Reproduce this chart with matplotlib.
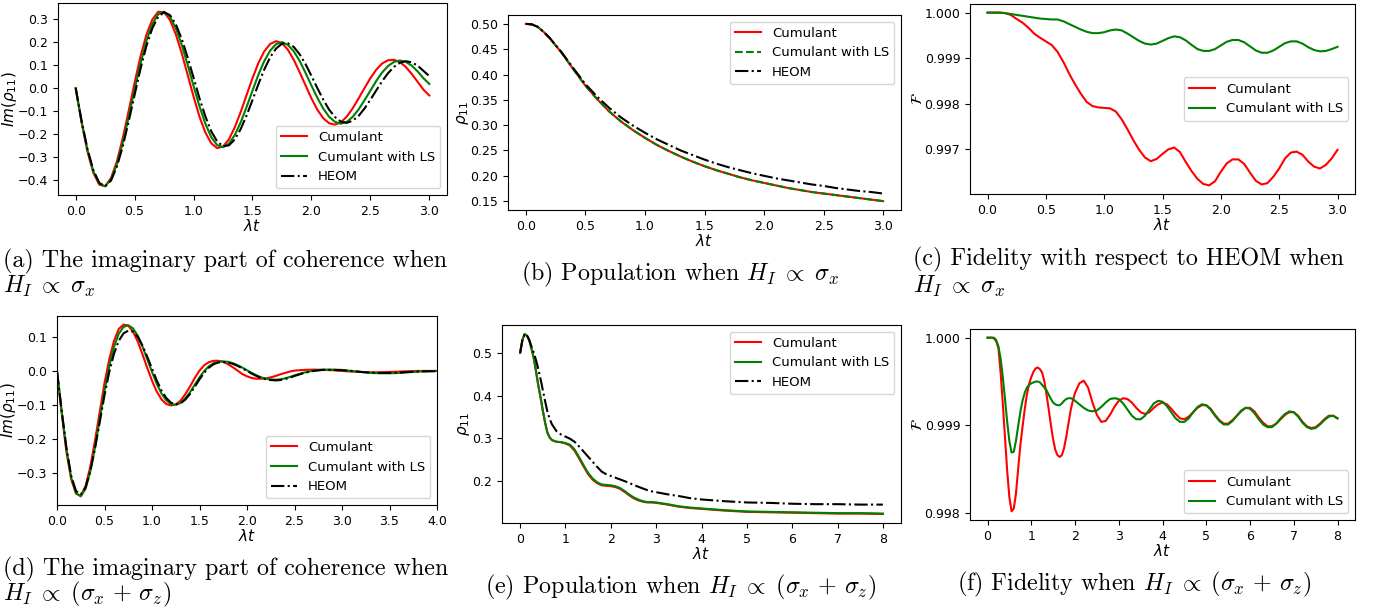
import numpy as np
import matplotlib
matplotlib.use('Agg')
import matplotlib.pyplot as plt
from matplotlib.ticker import MultipleLocator

plt.rcParams['font.size'] = 9.5
plt.rcParams['xtick.labelsize'] = 9
plt.rcParams['ytick.labelsize'] = 9
plt.rcParams['lines.linewidth'] = 1.5
plt.rcParams['axes.labelsize'] = 11

# ---------- (a) Im(rho11), H_I ~ sigma_x ----------
t_a = np.linspace(0, 3, 61)
im_cum_a = [0, -0.149, -0.276, -0.369, -0.420, -0.427, -0.391, -0.318, -0.216, -0.098,
            0.024, 0.138, 0.232, 0.298, 0.332, 0.330, 0.296, 0.233, 0.151, 0.057,
            -0.037, -0.124, -0.193, -0.240, -0.261, -0.254, -0.223, -0.170, -0.104, -0.030,
            0.043, 0.109, 0.160, 0.192, 0.204, 0.195, 0.167, 0.123, 0.069, 0.012,
            -0.045, -0.094, -0.131, -0.153, -0.159, -0.149, -0.124, -0.088, -0.045, 0.0,
            0.043, 0.080, 0.107, 0.121, 0.123, 0.113, 0.092, 0.062, 0.028, -0.007, -0.032]
im_ls_a = [0, -0.145, -0.270, -0.362, -0.416, -0.427, -0.397, -0.331, -0.237, -0.125,
           -0.006, 0.107, 0.205, 0.278, 0.321, 0.332, 0.310, 0.260, 0.188, 0.101,
           0.009, -0.079, -0.155, -0.213, -0.248, -0.257, -0.242, -0.204, -0.149, -0.082,
           -0.011, 0.058, 0.118, 0.163, 0.191, 0.200, 0.188, 0.160, 0.118, 0.066,
           0.011, -0.042, -0.089, -0.125, -0.147, -0.155, -0.147, -0.125, -0.093, -0.053,
           -0.011, 0.031, 0.068, 0.096, 0.114, 0.120, 0.114, 0.098, 0.073, 0.043, 0.018]
im_heom_a = [0, -0.143, -0.265, -0.357, -0.412, -0.427, -0.402, -0.341, -0.252, -0.144,
             -0.029, 0.084, 0.183, 0.260, 0.310, 0.330, 0.317, 0.277, 0.213, 0.133,
             0.045, -0.044, -0.123, -0.188, -0.232, -0.253, -0.249, -0.223, -0.178, -0.119,
             -0.052, 0.017, 0.081, 0.134, 0.172, 0.193, 0.195, 0.179, 0.147, 0.104,
             0.053, 0.0, -0.050, -0.094, -0.126, -0.146, -0.151, -0.142, -0.121, -0.089,
             -0.051, -0.010, 0.030, 0.065, 0.092, 0.110, 0.117, 0.112, 0.098, 0.075, 0.052]

# ---------- (b) population, H_I ~ sigma_x ----------
t_b = [0, 0.05, 0.1, 0.15, 0.2, 0.3, 0.4, 0.5, 0.6, 0.7, 0.8, 0.9, 1.0, 1.1, 1.2, 1.3, 1.4,
       1.5, 1.6, 1.7, 1.8, 1.9, 2.0, 2.1, 2.2, 2.3, 2.4, 2.5, 2.6, 2.7, 2.8, 2.9, 3.0]
pop_cum_b = [0.500, 0.499, 0.494, 0.484, 0.472, 0.443, 0.410, 0.378, 0.351, 0.327, 0.307,
             0.290, 0.275, 0.261, 0.249, 0.238, 0.228, 0.219, 0.211, 0.204, 0.197, 0.191,
             0.186, 0.181, 0.176, 0.172, 0.168, 0.165, 0.162, 0.159, 0.156, 0.153, 0.150]
pop_ls_b = pop_cum_b
pop_heom_b = [0.500, 0.499, 0.494, 0.484, 0.472, 0.444, 0.412, 0.381, 0.356, 0.334, 0.315,
              0.299, 0.285, 0.272, 0.261, 0.250, 0.241, 0.232, 0.224, 0.217, 0.211, 0.205,
              0.200, 0.195, 0.191, 0.187, 0.183, 0.180, 0.176, 0.173, 0.170, 0.168, 0.165]

# ---------- (c) fidelity, H_I ~ sigma_x ----------
t_c = np.linspace(0, 3, 61)
fid_cum_c = [1.0, 1.0, 1.0, 0.99999, 0.99995, 0.99986, 0.99978, 0.99967, 0.99954, 0.99945,
             0.99937, 0.99929, 0.99914, 0.99892, 0.99866, 0.99843, 0.99822, 0.99804, 0.99795, 0.99792,
             0.99791, 0.99790, 0.99783, 0.99766, 0.99744, 0.99720, 0.99699, 0.99682, 0.99674, 0.99679,
             0.99690, 0.99700, 0.99704, 0.99694, 0.99672, 0.99652, 0.99635, 0.99624, 0.99621, 0.99630,
             0.99651, 0.99669, 0.99678, 0.99678, 0.99668, 0.99649, 0.99631, 0.99623, 0.99626, 0.99640,
             0.99658, 0.99680, 0.99693, 0.99695, 0.99688, 0.99673, 0.99662, 0.99658, 0.99666, 0.99680,
             0.99699]
fid_ls_c = [1.0, 1.0, 1.0, 0.99999, 0.99997, 0.99995, 0.99993, 0.99991, 0.99989, 0.99987,
            0.99986, 0.99985, 0.99985, 0.99981, 0.99975, 0.99969, 0.99963, 0.99958, 0.99955, 0.99955,
            0.99957, 0.99961, 0.99963, 0.99961, 0.99954, 0.99946, 0.99938, 0.99932, 0.99930, 0.99932,
            0.99938, 0.99944, 0.99948, 0.99946, 0.99939, 0.99929, 0.99920, 0.99916, 0.99916, 0.99920,
            0.99928, 0.99936, 0.99940, 0.99940, 0.99935, 0.99926, 0.99917, 0.99912, 0.99912, 0.99917,
            0.99925, 0.99933, 0.99937, 0.99937, 0.99932, 0.99924, 0.99918, 0.99915, 0.99916, 0.99920,
            0.99925]

# ---------- (d) Im(rho11), H_I ~ (sigma_x + sigma_z) ----------
t_d = [0, 0.05, 0.1, 0.15, 0.2, 0.25, 0.3, 0.35, 0.4, 0.45, 0.5, 0.55, 0.6, 0.65, 0.7, 0.75,
       0.8, 0.85, 0.9, 0.95, 1.0, 1.05, 1.1, 1.15, 1.2, 1.25, 1.3, 1.35, 1.4, 1.45, 1.5, 1.55,
       1.6, 1.65, 1.7, 1.75, 1.8, 1.85, 1.9, 1.95, 2.0, 2.05, 2.1, 2.15, 2.2, 2.25, 2.3, 2.35,
       2.4, 2.45, 2.5, 2.6, 2.7, 2.8, 2.9, 3.0, 3.1, 3.2, 3.3, 3.4, 3.5, 3.6, 3.7, 3.8, 3.9, 4.0]
im_cum_d = [0, -0.125, -0.240, -0.320, -0.362, -0.368, -0.340, -0.283, -0.205, -0.120,
            -0.035, 0.035, 0.090, 0.125, 0.138, 0.135, 0.117, 0.088, 0.050, 0.010,
            -0.028, -0.060, -0.083, -0.097, -0.101, -0.098, -0.087, -0.068, -0.045, -0.020,
            0.002, 0.018, 0.027, 0.031, 0.031, 0.028, 0.021, 0.012, 0.002, -0.008,
            -0.015, -0.020, -0.022, -0.022, -0.021, -0.018, -0.014, -0.009, -0.005, -0.001,
            0.002, 0.004, 0.005, 0.004, 0.003, 0.001, -0.001, -0.002, -0.003, -0.003,
            -0.002, -0.001, 0.0, 0.001, 0.001, 0.001]
im_ls_d = [0, -0.120, -0.232, -0.315, -0.360, -0.370, -0.348, -0.297, -0.225, -0.142,
           -0.058, 0.015, 0.072, 0.111, 0.131, 0.136, 0.127, 0.105, 0.073, 0.036,
           -0.002, -0.037, -0.066, -0.086, -0.097, -0.099, -0.094, -0.080, -0.062, -0.040,
           -0.018, 0.001, 0.015, 0.024, 0.028, 0.029, 0.028, 0.024, 0.018, 0.011,
           0.003, -0.005, -0.012, -0.018, -0.022, -0.024, -0.025, -0.024, -0.021, -0.017,
           -0.012, -0.004, 0.002, 0.005, 0.005, 0.004, 0.001, -0.002, -0.005, -0.006,
           -0.006, -0.005, -0.003, -0.001, 0.0, 0.001]
im_heom_d = [0, -0.118, -0.228, -0.310, -0.354, -0.364, -0.344, -0.296, -0.228, -0.150,
             -0.071, -0.002, 0.052, 0.090, 0.112, 0.120, 0.117, 0.102, 0.076, 0.043,
             0.008, -0.027, -0.057, -0.079, -0.093, -0.098, -0.095, -0.084, -0.067, -0.046,
             -0.024, -0.004, 0.011, 0.021, 0.026, 0.027, 0.026, 0.022, 0.016, 0.009,
             0.001, -0.007, -0.014, -0.020, -0.024, -0.026, -0.027, -0.026, -0.023, -0.019,
             -0.014, -0.005, 0.001, 0.004, 0.004, 0.003, 0.001, -0.002, -0.004, -0.005,
             -0.005, -0.004, -0.002, -0.001, 0.0, 0.0]

# ---------- (e) population, H_I ~ (sigma_x + sigma_z) ----------
t_e = [0, 0.05, 0.1, 0.15, 0.2, 0.25, 0.3, 0.35, 0.4, 0.45, 0.5, 0.55, 0.6, 0.65, 0.7, 0.8,
       0.9, 1.0, 1.1, 1.2, 1.3, 1.4, 1.5, 1.6, 1.7, 1.8, 1.9, 2.0, 2.1, 2.2, 2.3, 2.4, 2.5,
       2.6, 2.7, 2.8, 2.9, 3.0, 3.25, 3.5, 3.75, 4.0, 4.5, 5.0, 5.5, 6.0, 6.5, 7.0, 7.5, 8.0]
pop_cum_e = [0.500, 0.530, 0.544, 0.540, 0.530, 0.510, 0.488, 0.457, 0.424, 0.396, 0.365,
             0.337, 0.314, 0.302, 0.296, 0.292, 0.291, 0.288, 0.283, 0.271, 0.253, 0.234,
             0.216, 0.203, 0.195, 0.190, 0.189, 0.188, 0.186, 0.182, 0.175, 0.167, 0.160,
             0.155, 0.152, 0.150, 0.150, 0.149, 0.145, 0.140, 0.137, 0.135, 0.131, 0.128,
             0.127, 0.126, 0.125, 0.124, 0.124, 0.123]
pop_ls_e = [0.500, 0.530, 0.544, 0.540, 0.530, 0.510, 0.488, 0.457, 0.424, 0.396, 0.365,
            0.337, 0.314, 0.302, 0.296, 0.292, 0.291, 0.289, 0.285, 0.274, 0.256, 0.237,
            0.219, 0.206, 0.197, 0.192, 0.191, 0.190, 0.188, 0.184, 0.177, 0.169, 0.162,
            0.157, 0.153, 0.151, 0.151, 0.150, 0.146, 0.141, 0.138, 0.136, 0.132, 0.129,
            0.128, 0.127, 0.126, 0.125, 0.125, 0.124]
pop_heom_e = [0.500, 0.530, 0.544, 0.541, 0.530, 0.515, 0.501, 0.483, 0.462, 0.439, 0.413,
              0.387, 0.363, 0.346, 0.333, 0.317, 0.309, 0.304, 0.299, 0.292, 0.281, 0.269,
              0.257, 0.245, 0.233, 0.222, 0.216, 0.212, 0.208, 0.204, 0.200, 0.196, 0.191,
              0.187, 0.183, 0.179, 0.176, 0.174, 0.169, 0.165, 0.160, 0.157, 0.153, 0.150,
              0.149, 0.147, 0.146, 0.146, 0.145, 0.145]

# ---------- (f) fidelity, H_I ~ (sigma_x + sigma_z) ----------
t_f = [round(0.05 * k, 2) for k in range(41)] + [round(2.0 + 0.1 * k, 1) for k in range(1, 61)]
fid_cum_f = [1.0, 1.0, 1.0, 0.99999, 0.99996, 0.99988, 0.99960, 0.99925, 0.99886, 0.99848,
             0.99818, 0.99802, 0.99805, 0.99822, 0.99850, 0.99877, 0.99898, 0.99918, 0.99935, 0.99947,
             0.99955, 0.99961, 0.99965, 0.99966, 0.99964, 0.99960, 0.99950, 0.99935, 0.99918, 0.99900,
             0.99884, 0.99872, 0.99866, 0.99864, 0.99866, 0.99874, 0.99887, 0.99902, 0.99917, 0.99928,
             0.99937,
             0.99948, 0.99951, 0.99943, 0.99926, 0.99912, 0.99904, 0.99905, 0.99912, 0.99921, 0.99928,
             0.99931, 0.99930, 0.99926, 0.99920, 0.99915, 0.99913, 0.99915, 0.99920, 0.99924, 0.99926,
             0.99924, 0.99919, 0.99913, 0.99908, 0.99907, 0.99910, 0.99915, 0.99920, 0.99923, 0.99923,
             0.99919, 0.99912, 0.99906, 0.99902, 0.99902, 0.99906, 0.99911, 0.99916, 0.99920, 0.99920,
             0.99916, 0.99909, 0.99903, 0.99899, 0.99899, 0.99902, 0.99907, 0.99912, 0.99915, 0.99915,
             0.99911, 0.99904, 0.99899, 0.99897, 0.99898, 0.99902, 0.99907, 0.99911, 0.99911, 0.99908]
fid_ls_f = [1.0, 1.0, 1.0, 1.0, 0.99997, 0.99990, 0.99976, 0.99955, 0.99930, 0.99904,
            0.99882, 0.99869, 0.99870, 0.99882, 0.99899, 0.99915, 0.99928, 0.99937, 0.99943, 0.99946,
            0.99948, 0.99949, 0.99950, 0.99950, 0.99949, 0.99946, 0.99943, 0.99940, 0.99935, 0.99930,
            0.99926, 0.99924, 0.99923, 0.99923, 0.99925, 0.99928, 0.99930, 0.99931, 0.99931, 0.99930,
            0.99928,
            0.99924, 0.99920, 0.99917, 0.99916, 0.99917, 0.99921, 0.99926, 0.99930, 0.99931, 0.99930,
            0.99925, 0.99918, 0.99911, 0.99907, 0.99907, 0.99911, 0.99918, 0.99925, 0.99928, 0.99927,
            0.99922, 0.99915, 0.99908, 0.99904, 0.99904, 0.99908, 0.99915, 0.99921, 0.99924, 0.99923,
            0.99918, 0.99911, 0.99905, 0.99901, 0.99901, 0.99905, 0.99911, 0.99917, 0.99920, 0.99919,
            0.99914, 0.99907, 0.99901, 0.99898, 0.99898, 0.99902, 0.99908, 0.99913, 0.99916, 0.99915,
            0.99910, 0.99903, 0.99898, 0.99896, 0.99897, 0.99901, 0.99906, 0.99910, 0.99911, 0.99908]

captions = {
    'a': ['(a) The imaginary part of coherence when', r'$H_I \;\propto\; \sigma_x$'],
    'b': [r'(b) Population when $H_I \;\propto\; \sigma_x$'],
    'c': ['(c) Fidelity with respect to HEOM when', r'$H_I \;\propto\; \sigma_x$'],
    'd': ['(d) The imaginary part of coherence when', r'$H_I \;\propto\; (\sigma_x \,+\, \sigma_z)$'],
    'e': [r'(e) Population when $H_I \;\propto\; (\sigma_x \,+\, \sigma_z)$'],
    'f': [r'(f) Fidelity when $H_I \;\propto\; (\sigma_x \,+\, \sigma_z)$'],
}

W, H = 1396, 612
fig = plt.figure(figsize=(W / 100, H / 100), dpi=100)


def add_ax(l, r, t, b):
    return fig.add_axes([l / W, 1 - b / H, (r - l) / W, (b - t) / H])


lab_cum = 'Cumulant'
lab_ls = 'Cumulant with LS'
lab_heom = 'HEOM'

# (a)
ax = add_ax(58, 447, 3, 195)
ax.plot(t_a, im_cum_a, color='red', label=lab_cum)
ax.plot(t_a, im_ls_a, color='green', label=lab_ls)
ax.plot(t_a, im_heom_a, color='black', linestyle='-.', label=lab_heom)
ax.yaxis.set_major_locator(MultipleLocator(0.1))
ax.set_xlabel(r'$\lambda t$', labelpad=0)
ax.set_ylabel(r'$Im(\rho_{11})$')
ax.yaxis.set_label_coords(-0.100, 0.5)
ax.legend(loc='lower right')

# (b)
ax = add_ax(508, 901, 15, 210)
ax.plot(t_b, pop_cum_b, color='red', label=lab_cum)
ax.plot(t_b, pop_ls_b, color='green', linestyle='--', label=lab_ls)
ax.plot(t_b, pop_heom_b, color='black', linestyle='-.', label=lab_heom)
ax.yaxis.set_major_locator(MultipleLocator(0.05))
ax.set_xlabel(r'$\lambda t$', labelpad=0)
ax.set_ylabel(r'$\rho_{11}$')
ax.yaxis.set_label_coords(-0.095, 0.5)
ax.legend(loc='upper right')

# (c)
ax = add_ax(970, 1355, 4, 194)
ax.plot(t_c, fid_cum_c, color='red', label=lab_cum)
ax.plot(t_c, fid_ls_c, color='green', label=lab_ls)
ax.set_yticks([0.997, 0.998, 0.999, 1.000])
ax.set_yticklabels(['0.997', '0.998', '0.999', '1.000'])
ax.set_xlabel(r'$\lambda t$', labelpad=0)
ax.set_ylabel(r'$\mathcal{F}$')
ax.yaxis.set_label_coords(-0.118, 0.5)
ax.legend(loc='center right')

# (d)
ax = add_ax(57, 437, 316, 505)
ax.plot(t_d, im_cum_d, color='red', label=lab_cum)
ax.plot(t_d, im_ls_d, color='green', label=lab_ls)
ax.plot(t_d, im_heom_d, color='black', linestyle='-.', label=lab_heom)
ax.set_xlim(0, 4)
ax.set_xlabel(r'$\lambda t$', labelpad=0)
ax.set_ylabel(r'$Im(\rho_{11})$')
ax.yaxis.set_label_coords(-0.103, 0.5)
ax.legend(loc='lower right')

# (e)
ax = add_ax(502, 901, 325, 523)
ax.plot(t_e, pop_cum_e, color='red', label=lab_cum)
ax.plot(t_e, pop_ls_e, color='green', label=lab_ls)
ax.plot(t_e, pop_heom_e, color='black', linestyle='-.', label=lab_heom)
ax.set_xlabel(r'$\lambda t$', labelpad=0)
ax.set_ylabel(r'$\rho_{11}$')
ax.yaxis.set_label_coords(-0.074, 0.5)
ax.legend(loc='upper right')

# (f)
ax = add_ax(970, 1355, 329, 520)
ax.plot(t_f, fid_cum_f, color='red', label=lab_cum)
ax.plot(t_f, fid_ls_f, color='green', label=lab_ls)
ax.set_yticks([0.998, 0.999, 1.000])
ax.set_yticklabels(['0.998', '0.999', '1.000'])
ax.set_xlabel(r'$\lambda t$', labelpad=0)
ax.set_ylabel(r'$\mathcal{F}$')
ax.yaxis.set_label_coords(-0.118, 0.5)
ax.legend(loc='lower right')

# captions (Computer Modern, like LaTeX subcaptions)
cap_kw = dict(fontfamily='cmr10', math_fontfamily='cm', fontsize=17.3, va='baseline')
fig.text(3 / W, 1 - 267 / H, captions['a'][0], ha='left', **cap_kw)
fig.text(3 / W, 1 - 293 / H, captions['a'][1], ha='left', **cap_kw)
fig.text(680 / W, 1 - 280 / H, captions['b'][0], ha='center', **cap_kw)
fig.text(913 / W, 1 - 265 / H, captions['c'][0], ha='left', **cap_kw)
fig.text(913 / W, 1 - 293 / H, captions['c'][1], ha='left', **cap_kw)
fig.text(3 / W, 1 - 575 / H, captions['d'][0], ha='left', **cap_kw)
fig.text(3 / W, 1 - 600 / H, captions['d'][1], ha='left', **cap_kw)
fig.text(681 / W, 1 - 593 / H, captions['e'][0], ha='center', **cap_kw)
fig.text(1134 / W, 1 - 590 / H, captions['f'][0], ha='center', **cap_kw)

fig.savefig('out.png', dpi=100)
